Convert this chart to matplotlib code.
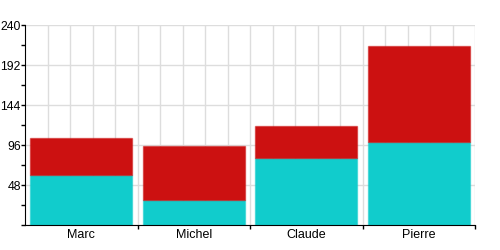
import matplotlib
matplotlib.use("Agg")
import matplotlib.pyplot as plt
import numpy as np
from matplotlib.colors import to_rgba

plt.rcParams["font.family"] = ["Liberation Sans", "DejaVu Sans"]

names = ["Marc", "Michel", "Claude", "Pierre"]
base = np.array([60, 30, 80, 100])
top = np.array([44, 65, 39, 115])

cyan = "#11cccc"
red = "#cc1111"

fig = plt.figure(figsize=(5, 2.5), dpi=100)
ax = fig.add_axes([0.05, 0.1, 0.9, 0.8])

x = np.arange(len(names))
for gx in np.arange(-0.3, 3.55, 0.2):
    ax.axvline(gx, color="#dddddd", linewidth=1, zorder=0)

ax.bar(x, base, width=0.91, color=cyan, edgecolor=to_rgba(cyan, 0.5), linewidth=1, zorder=2)
ax.bar(x, top, width=0.91, bottom=base, color=red, edgecolor=to_rgba(red, 0.5), linewidth=1, zorder=2)

ax.set_xlim(-0.5, 3.5)
ax.set_ylim(0, 240)

ax.set_yticks(np.arange(0, 241, 48), ["", "48", "96", "144", "192", "240"])
ax.set_yticks(np.arange(0, 241, 24), minor=True)
ax.yaxis.grid(True, which="major", color="#dddddd", linewidth=1, zorder=0)
ax.tick_params(axis="y", which="major", length=3, width=1, pad=0, labelsize=8.8)
ax.tick_params(axis="y", which="minor", length=3, width=1)

ax.set_xticks([0.5, 1.5, 2.5, 3.5], [])
ax.set_xticks(x, names, minor=True)
ax.tick_params(axis="x", which="major", length=3, width=1)
ax.tick_params(axis="x", which="minor", length=0, pad=3, labelsize=9)

ax.spines[["top", "right"]].set_visible(False)
ax.set_axisbelow(True)

fig.savefig("out.png", dpi=100, facecolor="white")
